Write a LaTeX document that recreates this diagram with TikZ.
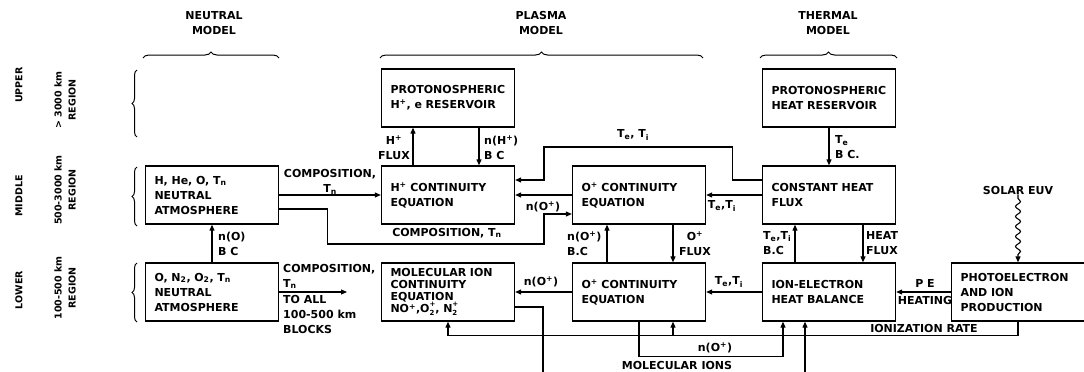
\documentclass[tikz,border=0pt]{standalone}
\usepackage{fontspec}
\setmainfont{DejaVu Sans}
\usetikzlibrary{arrows.meta,decorations.pathreplacing,decorations.pathmorphing}
\newcommand\bas[1]{\textsubscript{#1}}
\newcommand\haut[1]{\textsuperscript{#1}}
\newcommand\empile[2]{\raisebox{-2.2pt}{\fontsize{7}{6.5}\selectfont\shortstack[l]{#2\\#1}}}

\begin{document}
\begin{tikzpicture}[x=1pt,y=-1pt,
    font=\bfseries\fontsize{11}{15}\selectfont,
    bloc/.style={draw, line width=1.3pt, minimum height=58pt, text width=115pt, inner xsep=9pt, align=left},
    fleche/.style={line width=1.1pt, -{Triangle[length=6pt,width=5pt]}},
    trait/.style={line width=1.1pt},
    accolade/.style={line width=1pt, decorate, decoration={brace, amplitude=6pt}},
    lbl/.style={inner sep=0pt, align=left},
    cote/.style={rotate=90, inner sep=0pt, align=center, font=\bfseries\fontsize{9.5}{14}\selectfont}]
  \useasboundingbox (0,0) rectangle (1084,372);

  % Titres des modeles
  \node[lbl, align=center] (tneutre) at (214,23) {NEUTRAL\\MODEL};
  \node[lbl, align=center] (tplasma) at (541,23) {PLASMA\\MODEL};
  \node[lbl, align=center] (ttherm) at (828,23) {THERMAL\\MODEL};
  \draw[accolade] (143,58) -- (279,58);
  \draw[accolade] (380,58) -- (703,58);
  \draw[accolade] (760,58) -- (897,58);

  % Regions
  \node[cote] (rhaut) at (19,85) {UPPER};
  \node[cote] (khaut) at (65,100) {> 3000 km\\REGION};
  \node[cote] (rmil) at (19,196) {MIDDLE};
  \node[cote] (kmil) at (65,190) {500-3000 km\\REGION};
  \node[cote] (rbas) at (19,290) {LOWER};
  \node[cote] (kbas) at (65,288) {100-500 km\\REGION};
  \draw[accolade, decoration={amplitude=5pt}] (137,137) -- (137,70);
  \draw[accolade, decoration={amplitude=5pt}] (137,226) -- (137,167);
  \draw[accolade, decoration={amplitude=5pt}] (137,322) -- (137,263);

  % Blocs
  \node[bloc] (hres) at (448,98) {PROTONOSPHERIC\\H\haut{+}, e RESERVOIR};
  \node[bloc] (qres) at (829,98) {PROTONOSPHERIC\\HEAT RESERVOIR};
  \node[bloc] (nmid) at (212,195) {H, He, O, T\bas{n}\\NEUTRAL\\ATMOSPHERE};
  \node[bloc] (hcont) at (448,195) {H\haut{+} CONTINUITY\\EQUATION};
  \node[bloc] (ocont) at (639,195) {O\haut{+} CONTINUITY\\EQUATION};
  \node[bloc] (qflux) at (829,195) {CONSTANT HEAT\\FLUX};
  \node[bloc] (nlow) at (212,292) {O, N\bas{2}, O\bas{2}, T\bas{n}\\NEUTRAL\\ATMOSPHERE};
  \node[bloc, font=\bfseries\fontsize{11}{12}\selectfont] (mol) at (448,292)
    {MOLECULAR ION\\CONTINUITY\\EQUATION\\NO\haut{+},O\empile{2}{+}, N\empile{2}{+}};
  \node[bloc] (olow) at (639,292) {O\haut{+} CONTINUITY\\EQUATION};
  \node[bloc] (ieb) at (829,292) {ION-ELECTRON\\HEAT BALANCE};
  \node[bloc] (pe) at (1018,292) {PHOTOELECTRON\\AND ION\\PRODUCTION};
  \node[lbl] (euv) at (1018,190) {SOLAR EUV};

  % Liaisons region moyenne
  \draw[fleche] (nmid.east) -- (hcont.west);
  \node[lbl, align=center] (lcomp1) at (330,182) {COMPOSITION,\\T\bas{n}};
  \draw[fleche] ([yshift=-14pt]nmid.east) -- ++(48,0) |- (544,244) |- ([yshift=-19pt]ocont.west);
  \node[lbl] (lcomp2) at (447,233) {COMPOSITION, T\bas{n}};
  \draw[fleche] ([xshift=-35pt]hcont.north) -- ([xshift=-35pt]hres.south);
  \node[lbl, align=center] (lhflux) at (394,148) {H\haut{+}\\FLUX};
  \draw[fleche] ([xshift=31pt]hres.south) -- ([xshift=31pt]hcont.north);
  \node[lbl, anchor=west] (lnh) at (484,148) {n(H\haut{+})\\B C};
  \draw[fleche] ([yshift=15pt]qflux.west) -- ++(-29,0) |- (544,147) |- ([yshift=15pt]hcont.east);
  \node[lbl] (ltt1) at (633,135) {T\bas{e}, T\bas{i}};
  \draw[fleche] (ocont.west) -- (hcont.east);
  \node[lbl] (lno1) at (543,207) {n(O\haut{+})};
  \draw[fleche] (qflux.west) -- (ocont.east);
  \node[lbl] (ltt2) at (722,206) {T\bas{e},T\bas{i}};
  \draw[fleche] (qres.south) -- (qflux.north);
  \node[lbl, anchor=west] (lteb) at (835,147) {T\bas{e}\\B C.};

  % Liaisons entre regions
  \draw[fleche] (nlow.north) -- (nmid.south);
  \node[lbl, anchor=west] (lno) at (218,244) {n(O)\\B C};
  \draw[fleche] ([xshift=-32pt]olow.north) -- ([xshift=-32pt]ocont.south);
  \node[lbl, anchor=west] (lnobc) at (567,244) {n(O\haut{+})\\B.C};
  \draw[fleche] ([xshift=34pt]ocont.south) -- ([xshift=34pt]olow.north);
  \node[lbl, align=center] (loflux) at (695,244) {O\haut{+}\\FLUX};
  \draw[fleche] ([xshift=-34pt]ieb.north) -- ([xshift=-34pt]qflux.south);
  \node[lbl, anchor=west] (lttbc) at (763,243) {T\bas{e},T\bas{i}\\B.C};
  \draw[fleche] ([xshift=34pt]qflux.south) -- ([xshift=34pt]ieb.north);
  \node[lbl, anchor=west] (lhf) at (866,243) {HEAT\\FLUX};

  % Liaisons region basse
  \coordinate (toall) at (347,292);
  \draw[fleche] (nlow.east) -- (toall);
  \node[lbl, anchor=south west] (lcomp3) at (283,289) {COMPOSITION,\\T\bas{n}};
  \node[lbl, anchor=north west] (lall) at (283,295) {TO ALL\\100-500 km\\BLOCKS};
  \draw[fleche] (olow.west) -- (mol.east);
  \node[lbl] (lno2) at (541,282) {n(O\haut{+})};
  \draw[fleche] (ieb.west) -- (olow.east);
  \node[lbl] (ltt3) at (729,282) {T\bas{e},T\bas{i}};
  \draw[fleche] (pe.west) -- (ieb.east);
  \node[lbl] (lpe) at (925,283) {P E};
  \node[lbl] (lheat) at (925,300) {HEATING};
  \draw[fleche, decorate, decoration={snake, amplitude=2.5pt, segment length=10pt, pre length=4pt, post length=7pt}] (euv.south) -- (pe.north);

  % Taux d'ionisation et ions moleculaires
  \draw[fleche] (pe.south) |- ([yshift=-14pt]mol.south) -- (mol.south);
  \draw[fleche] ([xshift=34pt,yshift=-14pt]olow.south) -- ([xshift=34pt]olow.south);
  \node[lbl] (lion) at (924,328) {IONIZATION RATE};
  \draw[fleche] (olow.south) |- ([xshift=-46pt,yshift=-35pt]ieb.south) -- ([xshift=-46pt]ieb.south);
  \node[lbl] (lno3) at (715,348) {n(O\haut{+})};
  \coordinate (molout) at (543,372);
  \coordinate (molin) at (805,372);
  \draw[trait] ([yshift=-15pt]mol.east) -| (molout);
  \draw[fleche] (molin) -- ([xshift=-24pt]ieb.south);
  \node[lbl] (lmol) at (677,365) {MOLECULAR IONS};
\end{tikzpicture}
\end{document}
